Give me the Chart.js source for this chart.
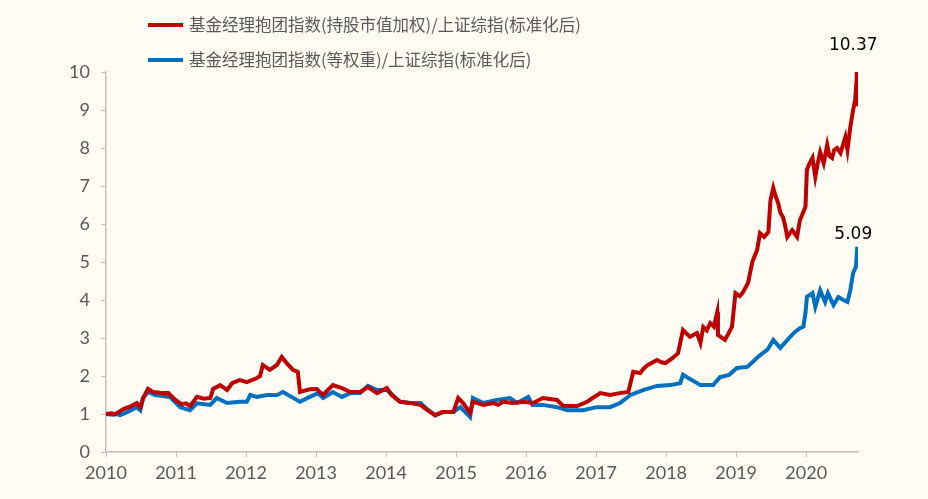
<!DOCTYPE html>
<html>
<head>
<meta charset="utf-8">
<script src="https://cdn.jsdelivr.net/npm/chart.js@4"></script>
<style>
  html, body { margin: 0; padding: 0; background: #FFFCF3; }
  #wrap { width: 928px; height: 499px; }
</style>
</head>
<body>
<div id="wrap"><canvas id="myChart"></canvas></div>
<script>
const redLabel = '基金经理抱团指数(持股市值加权)/上证综指(标准化后)';
const blueLabel = '基金经理抱团指数(等权重)/上证综指(标准化后)';

const redDates = [
  2010.00, 2010.08, 2010.12, 2010.17, 2010.25, 2010.35, 2010.44, 2010.49, 2010.53, 2010.60,
  2010.67, 2010.80, 2010.89, 2010.99, 2011.08, 2011.14, 2011.20, 2011.30, 2011.40, 2011.49,
  2011.53, 2011.63, 2011.73, 2011.80, 2011.91, 2012.01, 2012.15, 2012.20, 2012.24, 2012.34,
  2012.44, 2012.51, 2012.58, 2012.67, 2012.74, 2012.77, 2012.91, 2013.01, 2013.10, 2013.24,
  2013.37, 2013.49, 2013.63, 2013.74, 2013.87, 2014.01, 2014.08, 2014.20, 2014.34, 2014.49,
  2014.59, 2014.70, 2014.81, 2014.96, 2015.03, 2015.10, 2015.20, 2015.24, 2015.39, 2015.53,
  2015.60, 2015.67, 2015.81, 2015.96, 2016.10, 2016.24, 2016.44, 2016.53, 2016.73, 2016.87,
  2016.95, 2017.06, 2017.20, 2017.34, 2017.46, 2017.53, 2017.63, 2017.68, 2017.74, 2017.87,
  2017.93, 2017.99, 2018.09, 2018.17, 2018.24, 2018.34, 2018.44, 2018.49, 2018.53, 2018.58,
  2018.63, 2018.68, 2018.73, 2018.74, 2018.84, 2018.94, 2018.99, 2019.05, 2019.09, 2019.17,
  2019.23, 2019.30, 2019.34, 2019.40, 2019.46, 2019.49, 2019.53, 2019.56, 2019.60, 2019.63,
  2019.67, 2019.70, 2019.73, 2019.80, 2019.87, 2019.91, 2019.99, 2020.01, 2020.05, 2020.09,
  2020.13, 2020.16, 2020.20, 2020.25, 2020.30, 2020.33, 2020.37, 2020.40, 2020.44, 2020.49,
  2020.52, 2020.56, 2020.59, 2020.63, 2020.67, 2020.70, 2020.72, 2020.73, 2020.74];
const redValues = [
  1.00, 1.02, 0.99, 1.04, 1.13, 1.20, 1.29, 1.18, 1.42, 1.66,
  1.58, 1.55, 1.55, 1.37, 1.26, 1.28, 1.21, 1.45, 1.40, 1.42,
  1.66, 1.76, 1.63, 1.81, 1.89, 1.84, 1.94, 2.00, 2.29, 2.16,
  2.29, 2.50, 2.34, 2.16, 2.11, 1.58, 1.65, 1.66, 1.50, 1.76,
  1.68, 1.58, 1.58, 1.71, 1.55, 1.68, 1.50, 1.32, 1.29, 1.24,
  1.10, 0.97, 1.05, 1.05, 1.42, 1.29, 1.03, 1.32, 1.24, 1.29,
  1.24, 1.32, 1.29, 1.32, 1.29, 1.42, 1.37, 1.21, 1.21, 1.32,
  1.42, 1.55, 1.50, 1.55, 1.58, 2.11, 2.08, 2.20, 2.29, 2.42,
  2.36, 2.34, 2.47, 2.60, 3.21, 3.03, 3.13, 2.87, 3.29, 3.20,
  3.39, 3.30, 3.68, 3.08, 2.95, 3.29, 4.18, 4.10, 4.18, 4.45,
  5.00, 5.32, 5.76, 5.66, 5.79, 6.63, 6.95, 6.75, 6.55, 6.30,
  6.18, 5.95, 5.66, 5.84, 5.66, 6.10, 6.45, 7.42, 7.60, 7.74,
  7.24, 7.55, 7.89, 7.60, 8.08, 7.80, 7.74, 7.95, 8.00, 7.87,
  8.05, 8.29, 7.95, 8.55, 9.00, 9.26, 9.79, 10.37, 9.10];

const blueDates = [
  2010.00, 2010.10, 2010.15, 2010.20, 2010.30, 2010.44, 2010.49, 2010.53, 2010.60, 2010.70,
  2010.81, 2010.91, 2011.06, 2011.20, 2011.30, 2011.49, 2011.58, 2011.73, 2011.91, 2012.01,
  2012.06, 2012.15, 2012.30, 2012.44, 2012.53, 2012.63, 2012.77, 2012.91, 2013.03, 2013.10,
  2013.24, 2013.37, 2013.49, 2013.63, 2013.74, 2013.87, 2014.01, 2014.20, 2014.34, 2014.49,
  2014.59, 2014.70, 2014.81, 2014.96, 2015.06, 2015.20, 2015.24, 2015.39, 2015.58, 2015.77,
  2015.87, 2016.03, 2016.09, 2016.24, 2016.44, 2016.59, 2016.81, 2017.01, 2017.20, 2017.34,
  2017.49, 2017.67, 2017.87, 2018.06, 2018.20, 2018.24, 2018.34, 2018.49, 2018.67, 2018.77,
  2018.90, 2019.01, 2019.16, 2019.31, 2019.45, 2019.53, 2019.63, 2019.77, 2019.84, 2019.91,
  2019.96, 2019.99, 2020.01, 2020.09, 2020.13, 2020.20, 2020.27, 2020.31, 2020.39, 2020.46,
  2020.53, 2020.59, 2020.63, 2020.67, 2020.71, 2020.73, 2020.74];
const blueValues = [
  1.00, 0.98, 1.00, 0.97, 1.05, 1.18, 1.10, 1.42, 1.58, 1.50,
  1.47, 1.45, 1.18, 1.10, 1.28, 1.24, 1.42, 1.29, 1.32, 1.32,
  1.50, 1.45, 1.50, 1.50, 1.58, 1.47, 1.32, 1.45, 1.55, 1.42,
  1.58, 1.45, 1.55, 1.55, 1.74, 1.63, 1.63, 1.32, 1.29, 1.29,
  1.12, 0.97, 1.05, 1.05, 1.18, 0.92, 1.42, 1.29, 1.37, 1.42,
  1.29, 1.45, 1.24, 1.24, 1.18, 1.10, 1.10, 1.18, 1.18, 1.29,
  1.50, 1.63, 1.74, 1.76, 1.81, 2.03, 1.92, 1.76, 1.76, 1.97,
  2.03, 2.21, 2.24, 2.50, 2.70, 2.95, 2.74, 3.03, 3.16, 3.26,
  3.30, 3.66, 4.08, 4.18, 3.82, 4.26, 3.95, 4.18, 3.87, 4.08,
  4.00, 3.95, 4.26, 4.71, 4.87, 5.40, 4.90];

const endLabels = ['10.37', '5.09'];

const yearTicks = [2010, 2011, 2012, 2013, 2014, 2015, 2016, 2017, 2018, 2019, 2020];

function toPoints(xs, ys) {
    return xs.map((x, i) => ({ x: x, y: ys[i] }));
}

const bgColor = '#FFFCF3';
const axisColor = '#BFBFBF';
const textColor = '#595959';

const background = {
    id: 'background',
    beforeDraw(chart) {
        const { ctx, width, height } = chart;
        ctx.save();
        ctx.fillStyle = bgColor;
        ctx.fillRect(0, 0, width, height);
        ctx.restore();
    }
};

// two-row legend at the top left, drawn by hand
const topLegend = {
    id: 'topLegend',
    afterDraw(chart) {
        const { ctx } = chart;
        const rows = [25, 60];
        ctx.save();
        chart.data.datasets.forEach((ds, i) => {
            const y = rows[i];
            ctx.strokeStyle = ds.borderColor;
            ctx.lineWidth = 4;
            ctx.beginPath();
            ctx.moveTo(148, y);
            ctx.lineTo(183, y);
            ctx.stroke();
            ctx.fillStyle = textColor;
            ctx.font = '16.5px "Noto Sans CJK SC"';
            ctx.textAlign = 'left';
            ctx.textBaseline = 'middle';
            ctx.fillText(ds.label, 189, y);
        });
        ctx.restore();
    }
};

// value labels over the peak of each line
const peakLabels = {
    id: 'peakLabels',
    afterDatasetsDraw(chart) {
        const { ctx, scales: { x, y } } = chart;
        ctx.save();
        ctx.fillStyle = '#000000';
        ctx.font = '17px "DejaVu Sans"';
        ctx.textAlign = 'center';
        ctx.textBaseline = 'middle';
        chart.data.datasets.forEach((ds, i) => {
            let top = ds.data[0];
            ds.data.forEach(p => { if (p.y > top.y) top = p; });
            ctx.fillText(endLabels[i], x.getPixelForValue(top.x) - 4, y.getPixelForValue(top.y) - 12);
        });
        ctx.restore();
    }
};

const data = {
    datasets: [{
        label: redLabel,
        data: toPoints(redDates, redValues),
        borderColor: '#C00000',
        backgroundColor: '#C00000',
        borderWidth: 4,
        pointRadius: 0,
        tension: 0
    }, {
        label: blueLabel,
        data: toPoints(blueDates, blueValues),
        borderColor: '#0070C0',
        backgroundColor: '#0070C0',
        borderWidth: 4,
        pointRadius: 0,
        tension: 0
    }]
};

const config = {
    type: 'line',
    data,
    plugins: [background, topLegend, peakLabels],
    options: {
        responsive: true,
        maintainAspectRatio: false,
        animation: false,
        layout: {
            padding: { top: 72, right: 70, left: 0, bottom: 0 }
        },
        plugins: {
            legend: { display: false },
            tooltip: { enabled: false }
        },
        scales: {
            x: {
                type: 'linear',
                min: 2010,
                max: 2020.74,
                afterFit(scale) { scale.height = 47; },
                afterBuildTicks(scale) {
                    scale.ticks = yearTicks.map(v => ({ value: v }));
                },
                ticks: {
                    color: textColor,
                    font: { family: 'Lato', size: 18 },
                    padding: 5,
                    maxRotation: 0,
                    callback: v => String(v)
                },
                grid: {
                    drawOnChartArea: false,
                    drawTicks: true,
                    tickLength: 5,
                    color: axisColor
                },
                border: { color: axisColor, width: 1.5 }
            },
            y: {
                min: 0,
                max: 10,
                afterFit(scale) { scale.width = 106; },
                ticks: {
                    stepSize: 1,
                    color: textColor,
                    font: { family: 'Lato', size: 18 },
                    padding: 11
                },
                grid: {
                    drawOnChartArea: false,
                    drawTicks: true,
                    tickLength: 5,
                    color: axisColor
                },
                border: { color: axisColor, width: 1.5 }
            }
        }
    }
};

const myChart = new Chart(document.getElementById('myChart'), config);
</script>
</body>
</html>
